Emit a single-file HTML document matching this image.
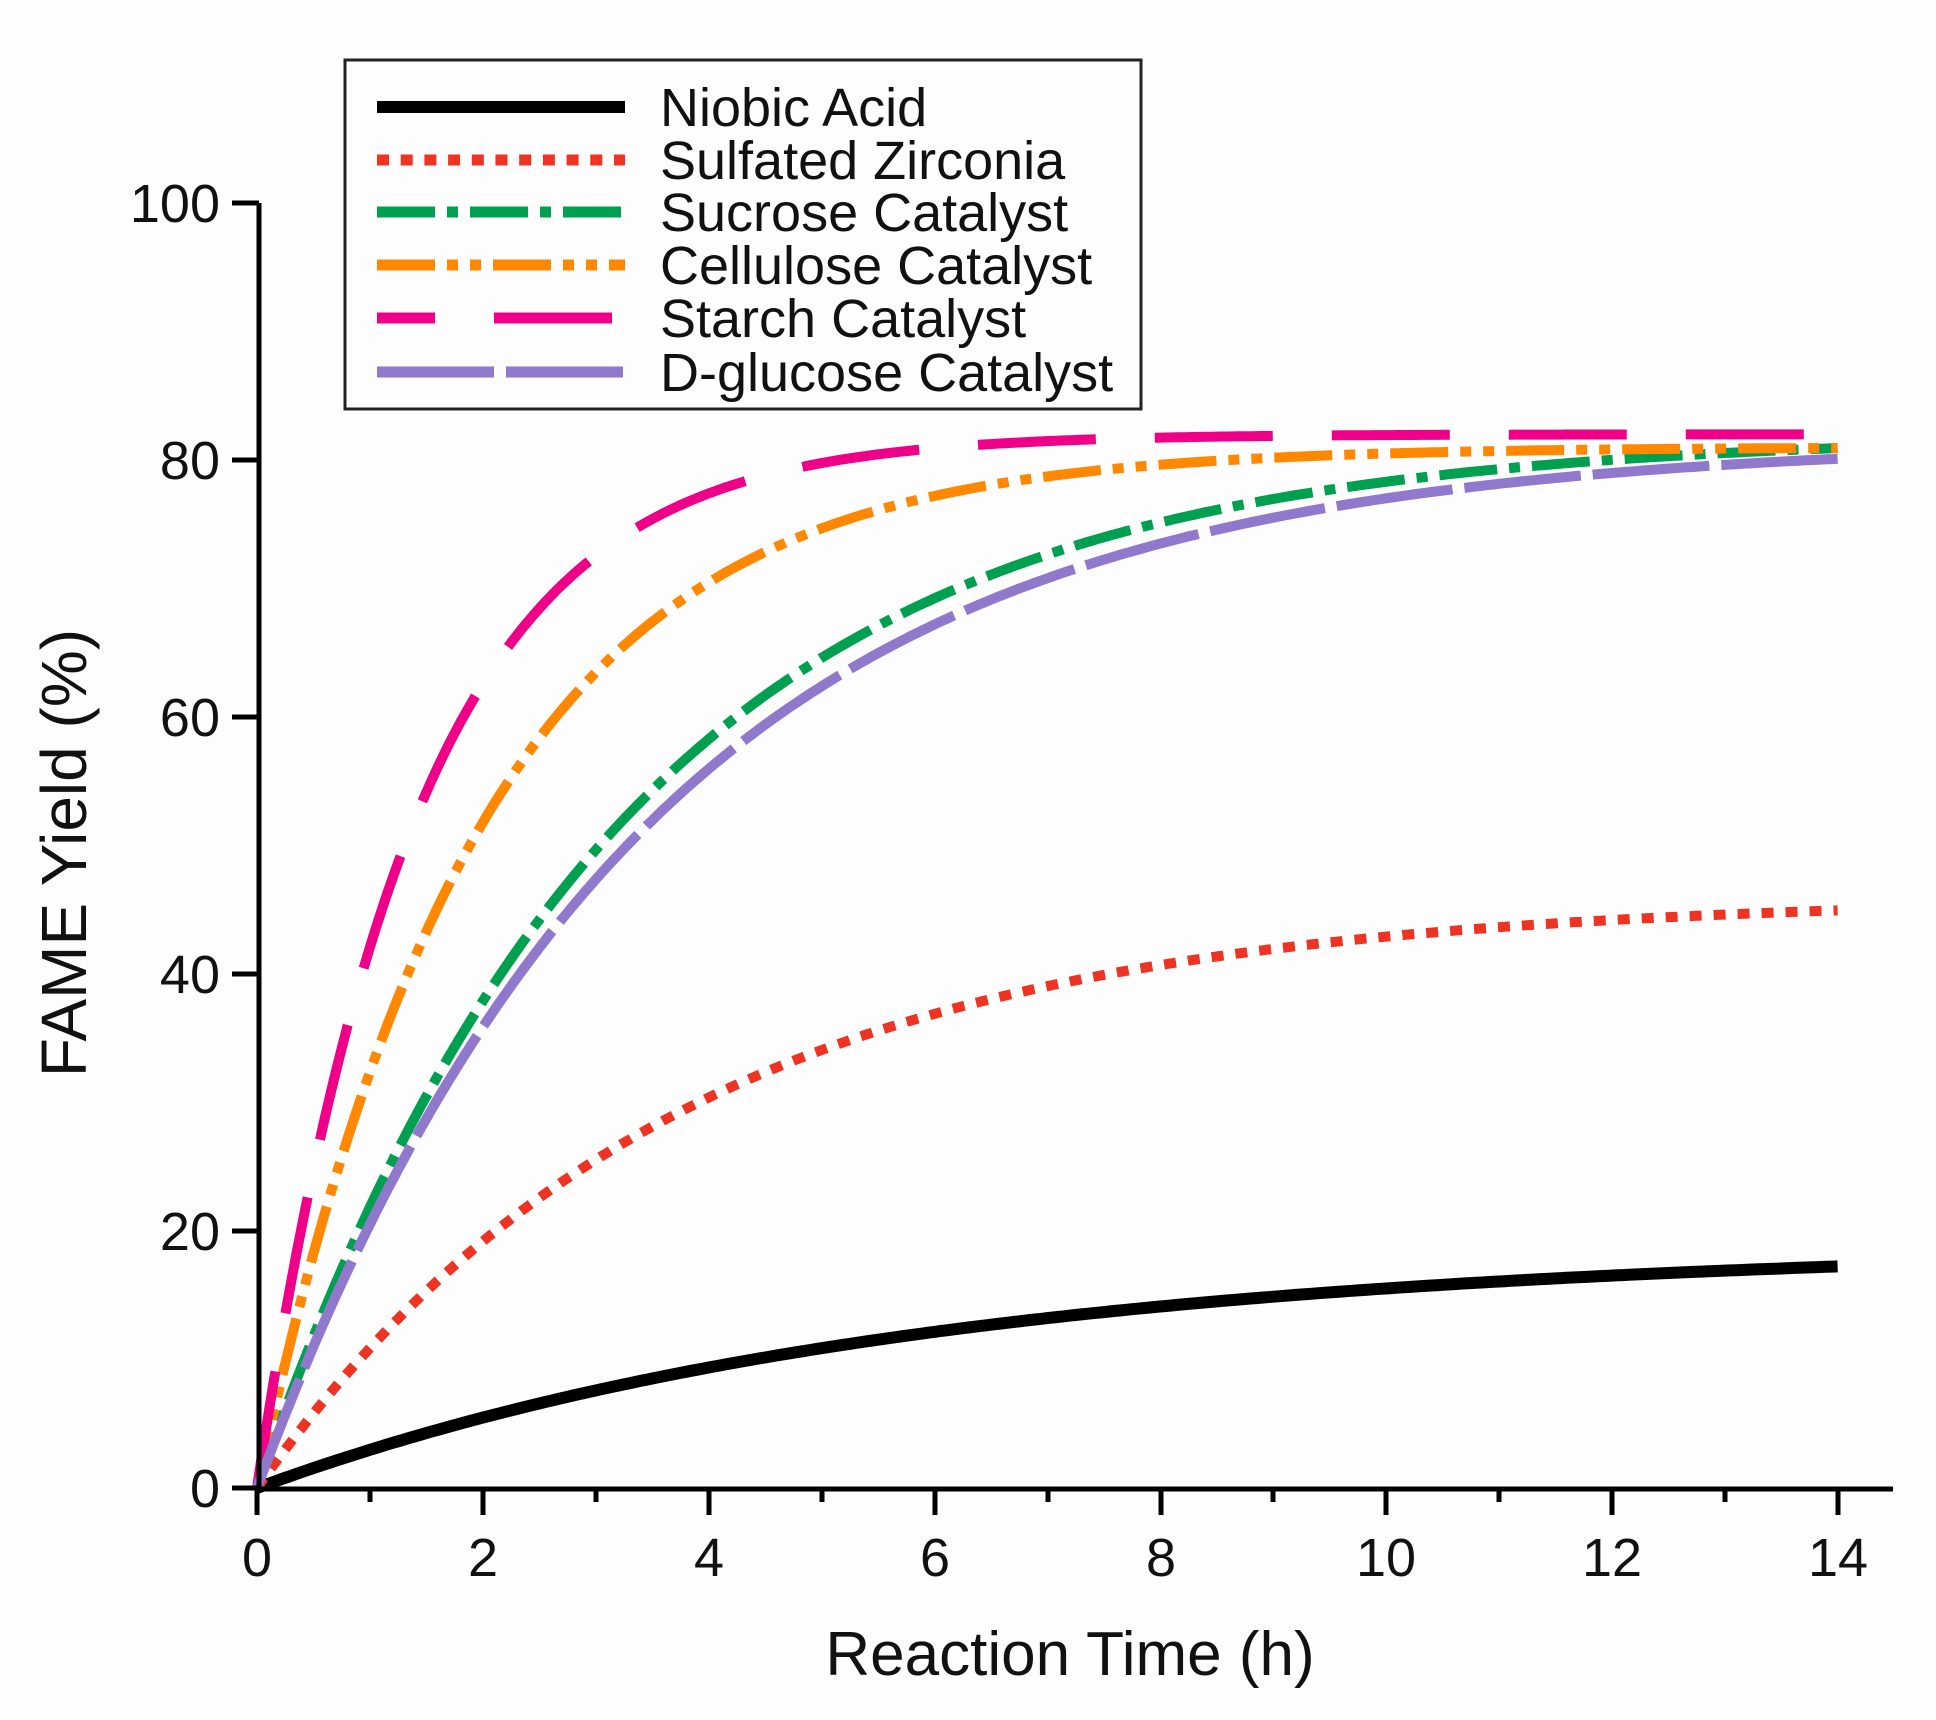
<!DOCTYPE html>
<html><head><meta charset="utf-8"><style>
html,body{margin:0;padding:0;background:#fdfdfd;}
svg{display:block;font-family:"Liberation Sans",Arial,sans-serif;}
</style></head><body>
<svg id="s" width="1936" height="1720" viewBox="0 0 1936 1720" xmlns="http://www.w3.org/2000/svg">
<rect width="1936" height="1720" fill="#fdfdfd"/>
<g id="curves" fill="none" stroke-linecap="butt"></g>
<g stroke="#000" stroke-width="5" fill="none">
<path d="M259 203 V1489 H1893"/>
<path d="M232 203H259M232 460H259M232 717H259M232 974H259M232 1231H259M232 1488H259"/>
<path d="M257 1489V1515M483 1489V1515M709 1489V1515M935 1489V1515M1161 1489V1515M1386 1489V1515M1612 1489V1515M1838 1489V1515"/>
<path d="M370 1489V1502M596 1489V1502M822 1489V1502M1048 1489V1502M1273 1489V1502M1499 1489V1502M1725 1489V1502"/>
</g>
<g font-size="54" fill="#111" text-anchor="end">
<text x="220" y="222">100</text>
<text x="220" y="479">80</text>
<text x="220" y="736">60</text>
<text x="220" y="993">40</text>
<text x="220" y="1250">20</text>
<text x="220" y="1507">0</text>
</g>
<g font-size="54" fill="#111" text-anchor="middle">
<text x="257" y="1576">0</text>
<text x="483" y="1576">2</text>
<text x="709" y="1576">4</text>
<text x="935" y="1576">6</text>
<text x="1161" y="1576">8</text>
<text x="1386" y="1576">10</text>
<text x="1612" y="1576">12</text>
<text x="1838" y="1576">14</text>
</g>
<text x="1070" y="1675" font-size="62" fill="#111" text-anchor="middle">Reaction Time (h)</text>
<text transform="translate(86,853) rotate(-90)" font-size="64" fill="#111" text-anchor="middle">FAME Yield (%)</text>
<rect x="345" y="60" width="796" height="349" fill="#fdfdfd" stroke="#222" stroke-width="3"/>
<g fill="none">
<path d="M377 107H625" stroke="#000" stroke-width="12"/>
<path d="M377 160H625" stroke="#ee3322" stroke-width="11" stroke-dasharray="12 11.7"/>
<path d="M377 212H625" stroke="#00a050" stroke-width="11" stroke-dasharray="58 12 11 12"/>
<path d="M377 265H625" stroke="#ff8800" stroke-width="11" stroke-dasharray="58 12 11 12 11 12"/>
<path d="M377 318H625" stroke="#ee0088" stroke-width="11" stroke-dasharray="58 59 118 59"/>
<path d="M377 372H625" stroke="#9078cc" stroke-width="11" stroke-dasharray="117 12"/>
</g>
<g font-size="54" fill="#111">
<text x="660" y="126">Niobic Acid</text>
<text x="660" y="179">Sulfated Zirconia</text>
<text x="660" y="231">Sucrose Catalyst</text>
<text x="660" y="284">Cellulose Catalyst</text>
<text x="660" y="337">Starch Catalyst</text>
<text x="660" y="391">D-glucose Catalyst</text>
</g>
</svg>
<script>
(function(){
var g=document.getElementById('curves');
function X(t){return 257+t*112.9;}
function Y(v){return 1488-v*12.85;}
var series=[
 {A:19,k:0.17,c:'#000',w:12,d:''},
 {A:46,k:0.27,c:'#ee3322',w:10,d:'12 12'},
 {A:82,k:0.31,c:'#00a050',w:10,d:'58 12 11 12'},
 {A:81,k:0.51,c:'#ff8800',w:10,d:'58 12 11 12 11 12'},
 {A:82,k:0.72,c:'#ee0088',w:10,d:'118 59'},
 {A:81.5,k:0.29,c:'#9078cc',w:10,d:'117 12'}
];
series.forEach(function(s){
  var p='';
  for(var i=0;i<=280;i++){var t=i*0.05;var v=s.A*(1-Math.exp(-s.k*t));
    p+=(i?'L':'M')+X(t).toFixed(1)+' '+Y(v).toFixed(1);}
  var e=document.createElementNS('http://www.w3.org/2000/svg','path');
  e.setAttribute('d',p);e.setAttribute('stroke',s.c);e.setAttribute('stroke-width',s.w);
  if(s.d)e.setAttribute('stroke-dasharray',s.d);
  g.appendChild(e);
});
})();
</script>
</body></html>
